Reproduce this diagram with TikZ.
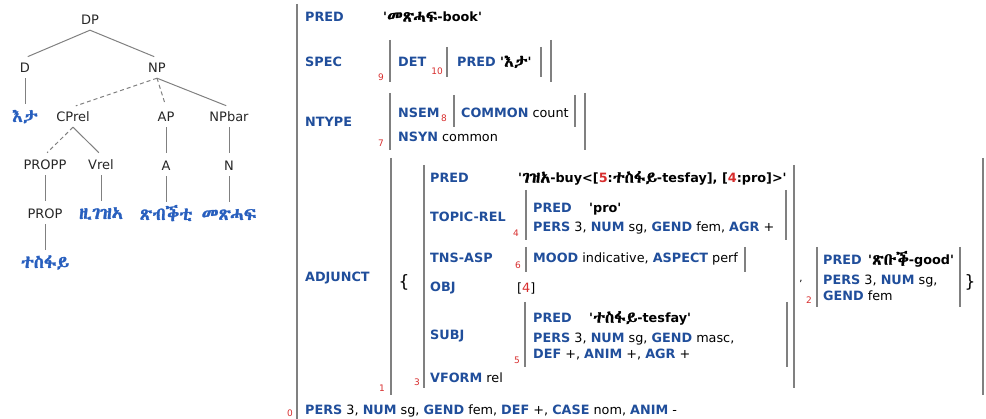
\documentclass[tikz,border=0pt]{standalone}
\usepackage{fontspec}
\usepackage{xcolor}
\usepackage{tikz}
\usetikzlibrary{positioning}

\setmainfont{DejaVu Sans}
\newcommand{\setethfont}[1]{\newfontfamily\ethfont{#1}\newfontfamily\ethbf[FakeBold=1.5]{#1}}
\IfFontExistsTF{Abyssinica SIL}{\setethfont{Abyssinica SIL}}{%
  \IfFontExistsTF{FreeSerif}{\setethfont{FreeSerif}}{%
    \IfFontExistsTF{Noto Sans Ethiopic}{\setethfont{Noto Sans Ethiopic}}{%
      \setethfont{DejaVu Sans}}}}

\definecolor{attrblue}{RGB}{32,78,155}
\definecolor{wordblue}{RGB}{40,95,190}
\definecolor{idxred}{RGB}{215,45,45}
\definecolor{bargray}{RGB}{128,128,128}

\newcommand{\fattr}[1]{\textbf{\color{attrblue}#1}}
\newcommand{\fq}{\textquotesingle}
\newcommand{\eth}[1]{{\mdseries\ethbf\fontsize{16.5}{15}\selectfont #1}}
\newcommand{\fval}[1]{\textbf{\fq#1\fq}}
\newcommand{\redno}[1]{\textcolor{idxred}{#1}}

\begin{document}
\begin{tikzpicture}[x=1pt, y=-1pt, node distance=28.6pt,
    cat/.style={inner sep=2pt, text height=13pt, text depth=3pt, text=black!85,
      font=\fontsize{13}{15}\selectfont},
    word/.style={cat, text=wordblue, font=\fontsize{18}{15}\selectfont\ethbf},
    tedge/.style={draw=black!50, line width=1pt, shorten >=3pt},
    tdash/.style={tedge, dash pattern=on 4pt off 3pt},
    fline/.style={anchor=west, inner sep=0pt, text height=9.5pt, text depth=0pt,
      font=\fontsize{12.8}{15}\selectfont},
    idx/.style={inner sep=0pt, text=idxred, font=\fontsize{9}{10}\selectfont},
    fbar/.style={draw=bargray, line width=2.2pt},
    brace/.style={inner sep=0pt, font=\fontsize{17}{17}\selectfont}]
    \useasboundingbox (0,0) rectangle (986,419);

    % c-structure
    \node[cat] (DP) at (90,20) {DP};
    \node[cat] (D) at (25,68) {D};
    \node[cat] (NP) at (157,68) {NP};
    \node[word, below=of D] (eta) {እታ};
    \node[cat] (CPrel) at (73,117) {CPrel};
    \node[cat] (AP) at (166,117) {AP};
    \node[cat] (NPbar) at (229,117) {NPbar};
    \node[cat] (PROPP) at (45,165) {PROPP};
    \node[cat] (Vrel) at (101,165) {Vrel};
    \node[cat, below=of AP] (A) {A};
    \node[cat, below=of NPbar] (N) {N};
    \node[cat, below=of PROPP] (PROP) {PROP};
    \node[word, below=of Vrel] (zigeza) {ዚገዝኣ};
    \node[word, below=of A] (tsibiqti) {ጽብቕቲ};
    \node[word, below=of N] (metshaf) {መጽሓፍ};
    \node[word, below=of PROP] (tesfay) {ተስፋይ};

    \draw[tedge] (DP.south) -- (D.north);
    \draw[tedge] (DP.south) -- (NP.north);
    \draw[tedge] (D.south) -- (eta.north);
    \draw[tdash] (NP.south) -- (CPrel.north);
    \draw[tdash] (NP.south) -- (AP.north);
    \draw[tedge] (NP.south) -- (NPbar.north);
    \draw[tdash] (CPrel.south) -- (PROPP.north);
    \draw[tedge] (CPrel.south) -- (Vrel.north);
    \draw[tedge] (AP.south) -- (A.north);
    \draw[tedge] (NPbar.south) -- (N.north);
    \draw[tedge] (PROPP.south) -- (PROP.north);
    \draw[tedge] (Vrel.south) -- (zigeza.north);
    \draw[tedge] (A.south) -- (tsibiqti.north);
    \draw[tedge] (N.south) -- (metshaf.north);
    \draw[tedge] (PROP.south) -- (tesfay.north);

    % f-structure: bars
    \draw[fbar] (297,4) -- (297,419);
    \draw[fbar] (390,40) -- (390,82);
    \draw[fbar] (551,40) -- (551,82);
    \draw[fbar] (447,47) -- (447,77);
    \draw[fbar] (541,47) -- (541,77);
    \draw[fbar] (390,93) -- (390,150);
    \draw[fbar] (585,93) -- (585,150);
    \draw[fbar] (454,95) -- (454,127);
    \draw[fbar] (575,95) -- (575,127);
    \draw[fbar] (391,158) -- (391,395);
    \draw[fbar] (983,158) -- (983,395);
    \draw[fbar] (424,165) -- (424,388);
    \draw[fbar] (794,165) -- (794,388);
    \draw[fbar] (526,190) -- (526,240);
    \draw[fbar] (786,190) -- (786,240);
    \draw[fbar] (526,247) -- (526,272);
    \draw[fbar] (745,247) -- (745,272);
    \draw[fbar] (525,302) -- (525,367);
    \draw[fbar] (787,302) -- (787,367);
    \draw[fbar] (817,247) -- (817,307);
    \draw[fbar] (960,247) -- (960,307);

    % f-structure: outer
    \node[fline] (predL) at (305,17) {\fattr{PRED}};
    \node[fline] (predV) at (383,17) {\fval{\eth{መጽሓፍ}-book}};
    \node[fline] (specL) at (305,62) {\fattr{SPEC}};
    \node[fline] (detL) at (398,62) {\fattr{DET}};
    \node[fline] (pred10) at (457,62) {\fattr{PRED}};
    \node[fline] (pred10v) at (500,62) {\fval{\eth{እታ}}};
    \node[fline] (ntypeL) at (305,122) {\fattr{NTYPE}};
    \node[fline] (nsemL) at (398,113) {\fattr{NSEM}};
    \node[fline] (commonL) at (461,113) {\fattr{COMMON} count};
    \node[fline] (nsynL) at (398,137) {\fattr{NSYN} common};
    \node[fline] (adjL) at (305,277) {\fattr{ADJUNCT}};
    \node[brace] (lbrace) at (404,282) {\{};
    \node[fline] (agr0) at (305,410) {\fattr{PERS} 3, \fattr{NUM} sg, \fattr{GEND} fem, \fattr{DEF} +, \fattr{CASE} nom, \fattr{ANIM} -};

    % f-structure: relative clause
    \node[fline] (pred3) at (430,178) {\fattr{PRED}};
    \node[fline] (pred3v) at (518,178) {\fval{\eth{ገዝአ}-buy<[\redno{5}:\eth{ተስፋይ}-tesfay], [\redno{4}:pro]>}};
    \node[fline] (topL) at (430,217) {\fattr{TOPIC-REL}};
    \node[fline] (pred4) at (533,208) {\fattr{PRED}};
    \node[fline] (pred4v) at (589,208) {\fval{pro}};
    \node[fline] (agr4) at (533,227) {\fattr{PERS} 3, \fattr{NUM} sg, \fattr{GEND} fem, \fattr{AGR} +};
    \node[fline] (tnsL) at (430,258) {\fattr{TNS-ASP}};
    \node[fline] (mood6) at (533,258) {\fattr{MOOD} indicative, \fattr{ASPECT} perf};
    \node[fline] (objL) at (430,287) {\fattr{OBJ}};
    \node[fline] (objV) at (517,288) {[\redno{4}]};
    \node[fline] (subjL) at (430,335) {\fattr{SUBJ}};
    \node[fline] (pred5) at (533,318) {\fattr{PRED}};
    \node[fline] (pred5v) at (589,318) {\fval{\eth{ተስፋይ}-tesfay}};
    \node[fline] (agr5a) at (533,338) {\fattr{PERS} 3, \fattr{NUM} sg, \fattr{GEND} masc,};
    \node[fline] (agr5b) at (533,354) {\fattr{DEF} +, \fattr{ANIM} +, \fattr{AGR} +};
    \node[fline] (vformL) at (430,378) {\fattr{VFORM} rel};
    \node[inner sep=0pt] (comma) at (801,281) {,};

    % f-structure: adjective
    \node[fline] (pred2) at (823,260) {\fattr{PRED}};
    \node[fline] (pred2v) at (868,260) {\fval{\eth{ጽቡቕ}-good}};
    \node[fline] (agr2a) at (823,280) {\fattr{PERS} 3, \fattr{NUM} sg,};
    \node[fline] (agr2b) at (823,296) {\fattr{GEND} fem};
    \node[brace] (rbrace) at (970,282) {\}};

    % indices
    \node[idx] (i0) at (290,413) {0};
    \node[idx] (i1) at (382,388) {1};
    \node[idx] (i2) at (809,300) {2};
    \node[idx] (i3) at (417,382) {3};
    \node[idx] (i4) at (516,233) {4};
    \node[idx] (i5) at (517,360) {5};
    \node[idx] (i6) at (518,265) {6};
    \node[idx] (i7) at (381,143) {7};
    \node[idx] (i8) at (444,118) {8};
    \node[idx] (i9) at (381,77) {9};
    \node[idx] (i10) at (437,71) {10};
\end{tikzpicture}
\end{document}
